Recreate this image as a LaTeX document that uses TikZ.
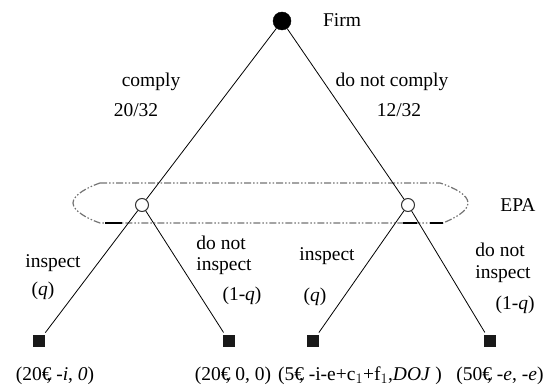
\documentclass[tikz,border=0pt]{standalone}
\usepackage{fontspec}
\setmainfont{Liberation Serif}
\begin{document}
\begin{tikzpicture}[x=1pt,y=-1pt,
  lbl/.style={inner sep=0pt,font=\fontsize{19.5}{22}\selectfont},
  firmnode/.style={circle,fill=black,draw=black,minimum size=18pt,inner sep=0pt},
  epanode/.style={circle,draw=black!80,line width=1pt,fill=white,minimum size=13pt,inner sep=0pt},
  leaf/.style={rectangle,fill=black!90,minimum size=11.5pt,inner sep=0pt},
  branch/.style={draw=black,line width=0.8pt},
  infoset/.style={draw=black!55,line width=1.2pt,dash pattern=on 7pt off 2pt on 1.5pt off 2pt on 1.5pt off 2pt}]
\useasboundingbox (0,0) rectangle (552,387);
% information set
\draw[infoset] (100,183) -- (440,183) .. controls (455,188) and (468,195) .. (468,203)
  .. controls (468,211) and (455,218) .. (443,223) -- (100,223)
  .. controls (88,219) and (73,211) .. (73,203) .. controls (73,195) and (88,187) .. (100,183) -- cycle;
\draw[black,line width=1.2pt] (105,223) -- (122,223) (403,223) -- (417,223) (430,223) -- (443,223);
% nodes
\node[firmnode] (firm) at (282,21) {};
\node[epanode] (epaL) at (142,205) {};
\node[epanode] (epaR) at (408,205) {};
\node[leaf] (l1) at (39,341) {};
\node[leaf] (l2) at (229,341) {};
\node[leaf] (l3) at (313,341) {};
\node[leaf] (l4) at (490,341) {};
% branches
\draw[branch] (firm) -- (epaL);
\draw[branch] (firm) -- (epaR);
\draw[branch,shorten >=3pt] (epaL) -- (l1);
\draw[branch,shorten >=3pt] (epaL) -- (l2);
\draw[branch,shorten >=3pt] (epaR) -- (l3);
\draw[branch,shorten >=3pt] (epaR) -- (l4);
% labels
\node[lbl] (tFirm) at (342,20) {Firm};
\node[lbl] (tEPA) at (518,205) {EPA};
\node[lbl] (tc) at (151,82) {comply};
\node[lbl] (tcp) at (136,110) {20/32};
\node[lbl] (tn) at (392,82) {do not comply};
\node[lbl] (tnp) at (399,110) {12/32};
\node[lbl] (i1) at (53,263) {inspect};
\node[lbl] (q1) at (43,291) {(\textit{q})};
\node[lbl,align=left] (n1) at (224,255) {do not\\[-1pt]inspect};
\node[lbl] (nq1) at (242,296) {(1-\textit{q})};
\node[lbl] (i2) at (327,256) {inspect};
\node[lbl] (q2) at (315,297) {(\textit{q})};
\node[lbl,align=left] (n2) at (503,263) {do not\\[0pt]inspect};
\node[lbl] (nq2) at (515,305) {(1-\textit{q})};
% payoffs
\node[lbl] (p1) at (55,376) {(20€\kern-5pt, -\textit{i}, \textit{0})};
\node[lbl] (p2) at (233,376) {(20€\kern-5pt, 0, 0)};
\node[lbl] (p3) at (360,376) {(5€\kern-5pt, -i-e+c$_1$+f$_1$,\textit{DOJ} )};
\node[lbl] (p4) at (500,376) {(50€\kern-5pt, -\textit{e}, -\textit{e})};
\end{tikzpicture}
\end{document}
